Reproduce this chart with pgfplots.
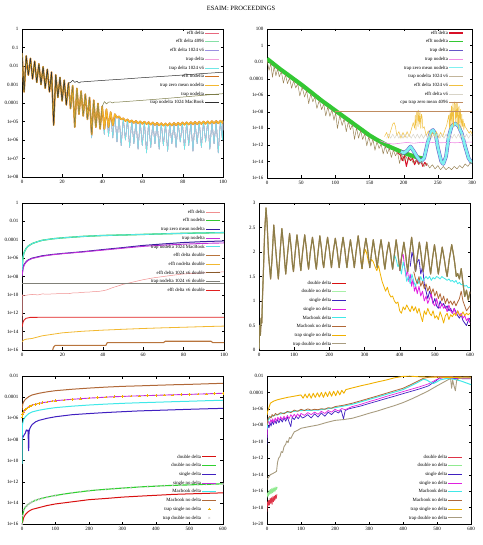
\documentclass[border=0pt]{standalone}
\usepackage{fontspec}
\setmainfont{Liberation Serif}
\usepackage{pgfplots}
\usepackage{pgfplotstable}
\pgfplotsset{compat=1.18}

\definecolor{tlEffd}{HTML}{E8687E}
\definecolor{tlE4096}{HTML}{86E0A6}
\definecolor{tlE1024}{HTML}{9C90E0}
\definecolor{tlTrapd}{HTML}{F2A0DA}
\definecolor{tlTrap1024}{HTML}{70E6E6}
\definecolor{tlEffnd}{HTML}{D07020}
\definecolor{tlZero}{HTML}{F4B830}
\definecolor{tlTrapnd}{HTML}{7C7C48}
\definecolor{tlMac}{HTML}{2E2E2E}
\definecolor{cRed}{HTML}{D81028}
\definecolor{cGreen}{HTML}{33C833}
\definecolor{cPurple}{HTML}{6656C8}
\definecolor{cPink}{HTML}{F08CE4}
\definecolor{cCyan}{HTML}{80F0F0}
\definecolor{cTan}{HTML}{9A8458}
\definecolor{cYellow}{HTML}{F0C040}
\definecolor{cLight}{HTML}{D8D4C8}
\definecolor{cCpu}{HTML}{C08C60}
\definecolor{mlPink}{HTML}{F09090}
\definecolor{mlBlue}{HTML}{3A1EA0}
\definecolor{mlMag}{HTML}{C030D8}
\definecolor{mlCyan}{HTML}{55E5E5}
\definecolor{mlTan}{HTML}{B8743C}
\definecolor{mlOrange}{HTML}{F2B830}
\definecolor{mlBrown}{HTML}{8A5A2A}
\definecolor{mlGray}{HTML}{808078}
\definecolor{mlRed}{HTML}{E02020}
\definecolor{dRed}{HTML}{D81010}
\definecolor{dLGreen}{HTML}{A8F0A8}
\definecolor{dGreen}{HTML}{30D030}
\definecolor{dBlue}{HTML}{4020C0}
\definecolor{dMag}{HTML}{E020E0}
\definecolor{dCyan}{HTML}{40E8E8}
\definecolor{dBrown}{HTML}{B06838}
\definecolor{dOrange}{HTML}{F0B000}
\definecolor{dOlive}{HTML}{8C7C48}
\definecolor{dGray}{HTML}{A89C80}

\pgfplotsset{
  gp/.style={
    scale only axis, anchor=south west,
    font=\fontsize{5}{6}\selectfont,
    /pgf/number format/assume math mode=true,
    axis line style={line width=0.4pt},
    tick align=inside,
    major tick length=2.5pt,
    every tick/.style={line width=0.3pt, black},
    yminorticks=false, xminorticks=false,
    legend style={draw=none, fill=none, font=\fontsize{4.8}{5.5}\selectfont,
      inner sep=0pt, row sep=3.2pt,
      nodes={inner sep=0.6pt, text height=3.4pt, text depth=0.9pt}},
    legend cell align=right,
    legend plot pos=right,
    legend image code/.code={\draw[mark repeat=2,mark phase=2] plot coordinates {(0pt,0pt) (7pt,0pt) (14pt,0pt)};},
    every axis plot/.append style={line join=round},
  }
}

\pgfplotstableread{
x cy or
0 5.0e-2 5.0e-2
1.05 4.0e-4 4.0e-4
2.1 3.5e-2 3.5e-2
3.15 3.2e-3 3.2e-3
4.2 2.6e-2 2.6e-2
5.25 2.0e-3 2.0e-3
6.3 1.8e-2 1.8e-2
7.35 1.3e-3 1.3e-3
8.4 1.3e-2 1.3e-2
9.45 1.0e-3 1.0e-3
10.5 9.1e-3 9.1e-3
11.55 6.3e-4 6.3e-4
12.6 6.6e-3 6.6e-3
13.65 4.0e-4 4.0e-4
14.7 4.7e-3 4.7e-3
15.75 6.3e-6 6.3e-6
16.8 3.3e-3 3.3e-3
17.85 2.0e-4 2.0e-4
18.9 2.4e-3 2.4e-3
19.95 1.3e-4 1.3e-4
21.0 1.7e-3 1.7e-3
22.05 7.9e-5 7.9e-5
23.1 1.2e-3 1.2e-3
24.15 5.0e-5 5.0e-5
25.2 8.7e-4 8.7e-4
26.25 5.0e-6 5.0e-6
27.3 6.2e-4 6.2e-4
28.35 2.5e-5 2.5e-5
29.4 4.4e-4 4.4e-4
30.45 2.0e-5 2.0e-5
31.5 3.0e-4 3.0e-4
32.55 1.3e-5 1.3e-5
33.6 2.0e-4 2.0e-4
34.65 1.3e-6 2.0e-6
35.7 1.4e-4 1.4e-4
36.75 5.0e-6 5.0e-6
37.8 9.5e-5 9.5e-5
38.85 4.0e-6 4.0e-6
39.9 6.5e-5 6.5e-5
40.95 2.0e-6 4.0e-6
42.0 4.6e-5 4.6e-5
43.05 1.6e-6 5.0e-6
44.1 3.2e-5 3.2e-5
45.15 1.3e-6 6.3e-6
46.2 2.5e-5 2.5e-5
47.25 7.9e-7 1.6e-5
48.3 1.9e-5 1.9e-5
49.35 5.0e-7 1.3e-5
50.4 1.5e-5 1.5e-5
51.45 1.0e-6 1.05e-5
52.5 1.3e-5 1.3e-5
53.55 4.0e-7 9.2e-6
54.6 1.15e-5 1.15e-5
55.65 6.3e-7 8.4e-6
56.7 1.07e-5 1.07e-5
57.75 3.2e-7 7.9e-6
58.8 1.02e-5 1.02e-5
59.85 5.0e-7 7.5e-6
60.9 9.8e-6 9.8e-6
61.95 2.0e-7 7.2e-6
63.0 9.3e-6 9.3e-6
64.05 4.0e-7 6.8e-6
65.1 8.9e-6 8.9e-6
66.15 6.3e-7 6.5e-6
67.2 8.5e-6 8.5e-6
68.25 3.2e-7 6.2e-6
69.3 8.1e-6 8.1e-6
70.35 5.0e-7 6.0e-6
71.4 7.9e-6 7.9e-6
72.45 2.5e-7 6.0e-6
73.5 8.1e-6 8.1e-6
74.55 6.3e-7 6.1e-6
75.6 8.3e-6 8.3e-6
76.65 4.0e-7 6.3e-6
77.7 8.5e-6 8.5e-6
78.75 7.9e-7 6.5e-6
79.8 8.9e-6 8.9e-6
80.85 3.2e-7 6.7e-6
81.9 9.1e-6 9.1e-6
82.95 5.0e-7 6.9e-6
84.0 9.3e-6 9.3e-6
85.05 2.5e-7 7.0e-6
86.1 9.5e-6 9.5e-6
87.15 6.3e-7 7.2e-6
88.2 9.8e-6 9.8e-6
89.25 4.0e-7 7.3e-6
90.3 1.0e-5 1.0e-5
91.35 7.9e-7 7.5e-6
92.4 1.02e-5 1.02e-5
93.45 3.2e-7 7.7e-6
94.5 1.05e-5 1.05e-5
95.55 6.3e-7 7.9e-6
96.6 1.07e-5 1.07e-5
97.65 2.0e-7 8.0e-6
98.7 1.1e-5 1.1e-5
99.75 1.0e-6 8.3e-6
100 1.12e-5 1.12e-5
}\tltab

\pgfplotstableread{
x y
196 1.6e-13
200 1.0e-13
205 2.0e-13
210 6.3e-13
215 1.6e-13
220 3.2e-14
225 1.0e-14
230 2.5e-14
235 1.6e-12
240 4.0e-11
243 6.3e-11
247 1.6e-11
250 5.0e-13
255 1.0e-14
258 5.0e-15
262 4.0e-14
266 1.0e-11
270 1.6e-10
275 4.0e-10
280 2.0e-10
285 2.5e-11
290 6.3e-13
295 2.5e-14
300 6.3e-15
}\trhump

\pgfplotstableread{
x y
0 0.02
2 0.5
4 0.3
6 0.65
8 0.55
10 1.1
13 1.7
16 2.4
20 2.9
23 2.6
27 1.95
30 1.7
33 1.45
37 1.85
42 2.55
47 2.1
51 1.75
55 1.45
60 2.0
65 2.48
70 2.1
73 1.8
76 1.55
81 1.95
87 2.38
92 2.05
95 1.75
98 1.6
103 2.0
108 2.35
113 2.05
116 1.8
119 1.62
124 2.0
130 2.35
135 2.05
138 1.8
141 1.65
146 2.0
152 2.3
157 2.05
160 1.8
163 1.65
168 2.0
173 2.33
178 2.05
181 1.8
184 1.68
189 2.0
195 2.3
200 2.05
203 1.85
206 1.68
211 2.0
217 2.28
222 2.05
225 1.85
228 1.68
233 2.0
239 2.3
244 2.05
247 1.85
250 1.68
255 2.0
260 2.25
265 2.0
268 1.85
271 1.68
276 2.0
282 2.33
287 2.05
290 1.82
293 1.66
298 2.0
304 2.28
309 2.05
312 1.85
315 1.68
320 1.98
325 2.25
330 2.0
333 1.85
336 1.68
341 1.98
347 2.25
352 2.0
355 1.8
358 1.65
363 1.95
369 2.2
374 1.98
377 1.8
380 1.65
385 1.95
390 2.25
395 1.98
398 1.78
401 1.62
406 1.92
412 2.2
417 1.95
420 1.75
423 1.6
428 1.95
434 2.3
439 2.0
442 1.78
445 1.6
450 1.9
456 2.2
461 1.95
464 1.75
467 1.6
472 1.9
477 2.2
482 1.9
485 1.7
488 1.55
493 1.85
499 2.15
504 1.9
507 1.7
510 1.55
515 1.8
521 2.1
527 1.85
531 1.65
535 1.5
541 1.85
548 2.15
553 1.95
557 1.75
561 1.5
565 1.56
570 1.45
575 1.66
580 1.36
585 1.09
590 1.22
595 1.02
600 1.19
}\mrtab

\pgfplotstableread{
x c2 gr
0 1.4e-6 1.0e-16
2 2.2e-6 6.3e-16
5 4.2e-6 2.0e-15
10 6.9e-6 4.0e-15
15 9.3e-6 5.6e-15
20 1.23e-5 7.9e-15
25 1.48e-5 1.0e-14
30 1.8e-5 1.26e-14
40 2.1e-5 1.7e-14
50 2.6e-5 2.2e-14
60 2.95e-5 2.7e-14
75 3.5e-5 3.5e-14
90 4.2e-5 4.4e-14
100 4.6e-5 5.0e-14
125 5.4e-5 6.8e-14
150 6.3e-5 8.9e-14
175 7.1e-5 1.12e-13
200 8.1e-5 1.4e-13
225 8.9e-5 1.66e-13
250 1.0e-4 1.9e-13
275 1.1e-4 2.2e-13
300 1.17e-4 2.5e-13
325 1.26e-4 2.8e-13
350 1.32e-4 3.2e-13
375 1.41e-4 3.5e-13
400 1.48e-4 3.8e-13
425 1.58e-4 4.2e-13
450 1.66e-4 4.5e-13
475 1.74e-4 4.8e-13
500 1.82e-4 5.0e-13
525 1.95e-4 5.4e-13
550 2.04e-4 5.6e-13
575 2.2e-4 6.0e-13
600 2.3e-4 6.3e-13
}\bltab

\begin{document}
\begin{tikzpicture}
\useasboundingbox (0,0) rectangle (482pt,545pt);
\node[font=\fontsize{6.5}{7.5}\selectfont] at (241pt,537pt) {ESAIM: PROCEEDINGS};

% ---------------- top left
\begin{axis}[gp, at={(22pt,368pt)}, width=201pt, height=148pt,
  xmin=0, xmax=100, ymode=log, ymin=1e-8, ymax=1,
  xtick={0,20,40,60,80,100},
  ytick={1e-8,1e-7,1e-6,1e-5,1e-4,1e-3,1e-2,1e-1,1},
  yticklabels={1e-08,1e-07,1e-06,1e-05,0.0001,0.001,0.01,0.1,1},
  legend style={at={(0.985,0.993)},anchor=north east}]
\addplot[tlEffd, line width=0.5pt] table[x=x,y=cy]{\tltab};
\addlegendentry{efft delta}
\addplot[tlE4096, line width=0.5pt] table[x=x,y=cy]{\tltab};
\addlegendentry{efft delta 4096}
\addplot[tlE1024, line width=0.5pt] table[x=x,y=cy]{\tltab};
\addlegendentry{efft delta 1024 v6}
\addplot[tlTrapd, line width=0.5pt] table[x=x,y=cy]{\tltab};
\addlegendentry{trap delta}
\addplot[tlTrap1024, line width=0.5pt] table[x=x,y=cy]{\tltab};
\addlegendentry{trap delta 1024 v6}
\addplot[tlEffnd, line width=1.6pt, legend image post style={line width=1.2pt}] table[x=x,y=or]{\tltab};
\addlegendentry{efft nodelta}
\addplot[tlZero, line width=1.2pt] table[x=x,y=or]{\tltab};
\addlegendentry{trap zero mean nodelta}
\addplot[tlTrapnd, line width=0.5pt, forget plot, restrict x to domain=0:39.95] table[x=x,y=or]{\tltab};
\addplot[tlTrapnd, line width=0.5pt] coordinates {(39.9,6.5e-5) (41.0,1.2e-4) (42.0,8.9e-5) (43.0,1.1e-4) (44.0,1.15e-4) (45.0,1.0e-4) (46.0,1.12e-4) (47.0,1.1e-4) (60,1.4e-4) (70,1.7e-4) (80,2.1e-4) (90,2.6e-4) (100,3.2e-4)};
\addlegendentry{trap nodelta}
\addplot[tlMac, line width=0.5pt, forget plot, restrict x to domain=0:23.15] table[x=x,y=or]{\tltab};
\addplot[tlMac, line width=0.5pt] coordinates {(23.1,1.2e-3) (24.15,1.3e-3) (25.2,1.7e-3) (26.25,1.3e-3) (27.3,1.5e-3) (28.35,1.2e-3) (29.4,1.4e-3) (30.45,1.4e-3) (40,1.66e-3) (50,1.95e-3) (60,2.34e-3) (70,2.75e-3) (80,3.24e-3) (90,3.9e-3) (100,4.6e-3)};
\addlegendentry{trap nodelta 1024 MacBook}
\end{axis}

% ---------------- top right
\begin{axis}[gp, at={(267pt,367pt)}, width=205pt, height=149pt,
  xmin=0, xmax=300, ymode=log, ymin=1e-16, ymax=100,
  xtick={0,50,100,150,200,250,300},
  ytick={1e-16,1e-14,1e-12,1e-10,1e-8,1e-6,1e-4,1e-2,1,100},
  yticklabels={1e-16,1e-14,1e-12,1e-10,1e-08,1e-06,0.0001,0.01,1,100},
  legend style={at={(0.961,0.993)},anchor=north east}]
\addplot[cRed, line width=1.0pt, legend image post style={line width=1.3pt}] coordinates {(190,1.26e-13) (195,6.3e-14) (198,1.26e-14) (201,5.0e-14) (204,2.5e-15) (207,3.2e-14) (210,1.26e-14) (213,2.5e-14) (216,4.0e-15) (219,1.6e-14) (222,5.0e-15) (225,1.26e-14) (228,2.5e-15) (231,7.9e-15) (234,3.2e-15)};
\addlegendentry{efft delta}
\addplot[cGreen, line width=4.2pt, legend image post style={line width=1.3pt}] coordinates {(0,2.5e-2) (10,5.6e-3) (20,1.26e-3) (30,3.2e-4) (40,7.9e-5) (50,2.0e-5) (60,4.5e-6) (70,1.0e-6) (80,2.2e-7) (90,5.6e-8) (100,1.4e-8) (110,3.5e-9) (120,8.9e-10) (130,2.2e-10) (140,5.6e-11) (150,1.4e-11) (160,4.5e-12) (170,1.6e-12) (180,5.6e-13) (190,2.5e-13) (200,1.1e-13) (210,5.6e-14) (220,3.2e-14) (230,2.0e-14)};
\addlegendentry{efft nodelta}
\addplot[cPurple, line width=3.6pt, legend image post style={line width=1.3pt}] table[x=x,y=y]{\trhump};
\addlegendentry{trap delta}
\addplot[cPink, line width=0.6pt] coordinates {(165,3.2e-12) (175,1.6e-12) (185,1.26e-12) (195,1.6e-12) (205,2.0e-12) (215,1.6e-12) (225,2.0e-12) (235,1.8e-12) (245,2.0e-12) (255,1.8e-12) (265,2.0e-12) (275,1.8e-12) (285,2.0e-12) (300,2.2e-12)};
\addlegendentry{trap nodelta}
\addplot[cCyan, line width=2.6pt, legend image post style={line width=0.6pt}] table[x=x,y=y]{\trhump};
\addlegendentry{trap zero mean nodelta}
\addplot[cTan, line width=0.5pt, legend image post style={color=cTan!60}] coordinates {(0,1.6e-2) (3,1.0e-3) (5.5,6.9e-3) (8,1.5e-4) (10.5,3.3e-3) (13,2.2e-4) (15.5,1.55e-3) (18,1.7e-4) (21,6.9e-4) (24,2.9e-5) (27,3.0e-4) (30,2.5e-5) (33,1.3e-4) (36,6.9e-6) (39,5.8e-5) (42,7.6e-6) (45,2.5e-5) (48,8.3e-7) (51.5,1.0e-5) (55,6.0e-7) (58,3.8e-6) (61,9.5e-8) (64,1.55e-6) (67,1.6e-7) (70,6.3e-7) (73,2.5e-8) (76.5,2.4e-7) (80,1.8e-8) (83,9.3e-8) (86,3.1e-9) (89,4.1e-8) (92,2.7e-9) (95,1.8e-8) (98,9.3e-10) (100.5,8.3e-9) (103,9.3e-11) (106.5,3.6e-9) (110,2.2e-10) (113,1.5e-9) (116,3.9e-11) (119,6.5e-10) (122,6.8e-11) (125,2.8e-10) (128,4.7e-12) (131,1.2e-10) (134,6.5e-12) (137,5.4e-11) (140,4.5e-12) (143,2.3e-11) (146,7.8e-13) (149,1.0e-11) (152,7.1e-13) (155,5.0e-12) (158,2.2e-13) (161,2.5e-12) (164,3.7e-13) (167,1.35e-12) (170,7.9e-14) (173,7.4e-13) (176,8.5e-14) (179,4.0e-13) (182,3.0e-14) (185,2.4e-13) (188,4.7e-14) (191,1.45e-13) (194,5.8e-15) (197,8.9e-14) (200,1.1e-14) (203,5.0e-14) (206,1.26e-14) (210,3.2e-14) (214,6.3e-15) (218,1.6e-14) (222,4.0e-15) (226,1.0e-14) (230,2.5e-15) (234,6.3e-15) (238,1.6e-15) (242,4.0e-15) (246,1.26e-15) (250,3.2e-15) (254,1.0e-15) (258,2.5e-15) (262,1.0e-15) (266,2.0e-15) (270,1.0e-15) (274,2.5e-15) (278,1.26e-15) (282,3.2e-15) (286,1.6e-15) (290,5.0e-15) (294,2.5e-15) (298,7.9e-15) (300,5.0e-15)};
\addlegendentry{trap nodelta 1024 v6}
\addplot[cYellow, line width=0.5pt] coordinates {(172,1.0e-11) (175,3.2e-11) (178,6.3e-12) (181,5.0e-11) (184,3.2e-10) (186,5.0e-10) (188,1.6e-10) (190,1.26e-11) (193,4.0e-11) (196,6.3e-12) (199,3.2e-11) (202,7.9e-12) (205,4.0e-11) (208,1.0e-11) (211,6.3e-11) (214,5.0e-10) (216,1.0e-10) (217,4.0e-9) (218,6.3e-11) (219,7.9e-9) (220,1.26e-8) (221,1.6e-10) (222,1.6e-8) (223,3.2e-10) (224,1.0e-8) (225,1.0e-10) (226,5.0e-9) (227,2.5e-9) (228,1.0e-10) (230,1.6e-10) (233,1.26e-11) (236,5.0e-11) (239,7.9e-12) (242,3.2e-11) (245,1.0e-11) (248,4.0e-11) (251,7.9e-12) (254,3.2e-11) (257,1.0e-11) (260,5.0e-11) (263,2.5e-10) (266,4.0e-9) (267,1.0e-10) (268,1.6e-8) (269,1.6e-10) (270,5.0e-8) (271,3.2e-10) (272,1.0e-7) (273,1.6e-10) (274,1.26e-7) (275,1.6e-7) (276,6.3e-10) (277,1.4e-7) (278,2.5e-10) (279,1.0e-7) (280,7.9e-11) (281,5.0e-8) (282,4.0e-10) (283,2.0e-8) (284,1.0e-10) (285,5.0e-9) (286,1.6e-10) (287,1.26e-9) (288,6.3e-11) (289,4.0e-10) (290,1.6e-10) (293,6.3e-11) (296,2.5e-11) (298,5.0e-11) (300,2.0e-11)};
\addlegendentry{efft delta 1024 v6}
\addplot[cLight, line width=0.5pt] coordinates {(175,6.3e-12) (178,2.0e-11) (181,6.3e-12) (184,2.0e-11) (187,6.3e-12) (190,2.0e-11) (193,6.3e-12) (196,2.0e-11) (199,6.3e-12) (202,2.0e-11) (205,6.3e-12) (208,2.0e-11) (211,6.3e-12) (214,2.0e-11) (217,6.3e-12) (220,2.0e-11) (223,6.3e-12) (226,2.0e-11) (229,6.3e-12) (232,2.0e-11) (235,6.3e-12) (238,2.0e-11) (241,6.3e-12) (244,2.0e-11) (247,6.3e-12) (250,2.0e-11) (253,6.3e-12) (256,2.0e-11) (259,6.3e-12) (262,2.0e-11) (265,6.3e-12) (268,2.0e-11) (271,6.3e-12) (274,2.0e-11) (277,6.3e-12) (280,2.0e-11) (283,6.3e-12) (286,2.0e-11) (289,6.3e-12) (292,2.0e-11) (295,6.3e-12) (298,2.0e-11) (300,1.0e-11)};
\addlegendentry{efft delta v6}
\addplot[cCpu, line width=0.5pt] coordinates {(100,1.2e-8) (300,1.2e-8)};
\addlegendentry{cpu trap zero mean 4096}
\end{axis}

% ---------------- middle left
\begin{axis}[gp, at={(22pt,195pt)}, width=202pt, height=147pt,
  xmin=0, xmax=100, ymode=log, ymin=1e-16, ymax=1,
  xtick={0,20,40,60,80,100},
  ytick={1e-16,1e-14,1e-12,1e-10,1e-8,1e-6,1e-4,1e-2,1},
  yticklabels={1e-16,1e-14,1e-12,1e-10,1e-08,1e-06,0.0001,0.01,1},
  legend style={at={(0.985,0.959)},anchor=north east}]
\addplot[mlPink, line width=0.5pt] coordinates {(0,1.0e-16) (0.2,1.0e-10) (1,7.9e-11) (3,1.0e-10) (5,1.1e-10) (8,1.0e-10) (10,1.26e-10) (13,1.2e-10) (16,1.3e-10) (20,1.4e-10) (23,1.35e-10) (25,1.6e-10) (28,1.7e-10) (30,1.9e-10) (33,2.0e-10) (35,2.2e-10) (38,2.4e-10) (40,2.8e-10) (42,3.5e-10) (45,6.3e-10) (48,1.0e-9) (50,1.4e-9) (55,2.5e-9) (60,4.5e-9) (65,7.1e-9) (70,1.0e-8) (75,1.4e-8) (80,1.9e-8) (85,2.2e-8) (90,2.5e-8) (95,2.8e-8) (100,3.2e-8)};
\addlegendentry{efft delta}
\addplot[cGreen, line width=1.3pt] coordinates {(0,5.0e-8) (0.5,1.26e-6) (1,4.0e-6) (2,1.1e-5) (3,2.0e-5) (5,3.8e-5) (7.5,6.0e-5) (10,8.7e-5) (15,1.26e-4) (20,1.6e-4) (30,2.3e-4) (40,2.9e-4) (50,3.3e-4) (60,3.8e-4) (70,4.4e-4) (80,5.0e-4) (90,5.5e-4) (100,6.0e-4)};
\addlegendentry{efft nodelta}
\addplot[mlBlue, line width=1.0pt] coordinates {(0,1.26e-8) (0.5,7.9e-8) (1,2.0e-7) (2,4.0e-7) (3,6.3e-7) (5,1.0e-6) (10,1.8e-6) (15,2.5e-6) (20,3.2e-6) (30,5.0e-6) (40,8.5e-6) (50,1.4e-5) (60,2.4e-5) (70,3.5e-5) (80,5.0e-5) (90,6.3e-5) (100,7.4e-5)};
\addlegendentry{trap zero mean nodelta}
\addplot[mlMag, line width=0.9pt] coordinates {(0,1.0e-8) (0.5,6.3e-8) (1,1.6e-7) (2,3.5e-7) (3,5.6e-7) (5,9.0e-7) (10,1.6e-6) (15,2.3e-6) (20,3.0e-6) (30,4.6e-6) (40,7.4e-6) (50,1.2e-5) (60,1.9e-5) (70,2.6e-5) (80,3.3e-5) (90,4.0e-5) (100,4.5e-5)};
\addlegendentry{trap nodelta}
\addplot[mlCyan, line width=1.0pt] coordinates {(0,5.0e-8) (0.5,1.26e-6) (1,4.0e-6) (2,1.1e-5) (3,2.0e-5) (5,3.8e-5) (7.5,6.0e-5) (10,8.7e-5) (15,1.26e-4) (20,1.6e-4) (30,2.3e-4) (40,2.9e-4) (50,3.3e-4) (60,3.8e-4) (70,4.4e-4) (80,5.0e-4) (90,5.5e-4) (100,6.0e-4)};
\addlegendentry{trap nodelta 1024 MacBook}
\addplot[mlTan, line width=1.1pt] coordinates {(15.2,1.0e-16) (15.6,2.0e-16) (16.5,3.2e-16) (41.5,3.2e-16) (42.2,6.3e-16) (70,6.3e-16) (71,9.0e-16) (93.5,9.0e-16) (94.5,6.3e-16) (100,6.3e-16)};
\addlegendentry{efft delta double}
\addplot[mlOrange, line width=0.8pt] coordinates {(0,7.9e-16) (1,1.26e-15) (2,1.5e-15) (5,1.8e-15) (10,3.5e-15) (20,7.4e-15) (30,1.1e-14) (40,1.45e-14) (50,1.8e-14) (60,2.2e-14) (70,2.6e-14) (80,3.0e-14) (90,3.5e-14) (100,4.0e-14)};
\addlegendentry{efft nodelta double}
\addplot[mlBrown, line width=0.8pt] coordinates {(0,1.7e-9) (100,1.7e-9)};
\addlegendentry{efft delta 1024 v6 double}
\addplot[mlGray, line width=1.2pt] coordinates {(0,1.7e-9) (100,1.7e-9)};
\addlegendentry{trap nodelta 1024 v6 double}
\addplot[mlRed, line width=0.9pt] coordinates {(0,3.2e-14) (0.5,1.0e-13) (1,1.8e-13) (2,2.8e-13) (4,3.5e-13) (10,3.7e-13) (100,3.7e-13)};
\addlegendentry{efft delta v6 double}
\end{axis}

% ---------------- middle right
\begin{axis}[gp, at={(259pt,195pt)}, width=211pt, height=147pt,
  xmin=0, xmax=600, ymin=0, ymax=3,
  xtick={0,100,200,300,400,500,600},
  ytick={0,0.5,1,1.5,2,2.5,3},
  legend style={at={(0.417,0.476)},anchor=north east}]
\addplot[dRed, line width=0.9pt] table[x=x,y=y]{\mrtab};
\addlegendentry{double delta}
\addplot[dLGreen, line width=0.9pt] table[x=x,y=y]{\mrtab};
\addlegendentry{double no delta}
\addplot[dBlue, line width=0.8pt] coordinates {(430,1.7) (435,2.0) (440,1.85) (445,1.6) (450,1.8) (455,1.85) (460,1.55) (465,1.7) (470,1.35) (475,1.2) (480,1.05) (485,1.2) (490,1.1) (495,0.95) (500,1.05) (505,0.9) (510,0.85) (515,1.0) (520,0.9) (525,0.95) (530,0.85) (535,0.9) (540,0.8) (545,0.85) (550,0.75) (555,0.85) (560,0.78) (565,0.7) (570,0.65) (575,0.72) (580,0.6) (585,0.55) (590,0.5) (595,0.6) (600,0.65)};
\addlegendentry{single delta}
\addplot[dMag, line width=0.8pt] coordinates {(400,1.62) (405,1.9) (410,1.95) (414,1.7) (418,1.5) (422,1.65) (426,1.4) (430,1.55) (434,1.3) (438,1.45) (442,1.2) (446,1.3) (450,1.15) (455,1.3) (460,1.1) (465,1.2) (470,1.0) (475,1.1) (480,0.95) (485,1.05) (490,1.15) (495,0.95) (500,0.9) (505,1.05) (510,0.9) (515,0.85) (520,0.95) (525,0.85) (530,0.9) (535,0.78) (540,0.92) (545,0.8) (550,0.75) (555,0.85) (560,0.72) (565,0.8) (570,0.7) (575,0.75) (580,0.65) (585,0.7) (590,0.6) (595,0.65) (600,0.55)};
\addlegendentry{single no delta}
\addplot[dCyan, line width=0.8pt] coordinates {(380,1.65) (385,1.95) (390,1.85) (395,1.7) (400,1.75) (405,1.55) (410,1.8) (415,1.65) (420,1.4) (425,1.5) (430,1.35) (435,1.55) (440,1.4) (445,1.3) (450,1.45) (455,1.35) (460,1.5) (465,1.4) (470,1.45) (475,1.5) (480,1.45) (485,1.5) (490,1.42) (495,1.48) (500,1.45) (505,1.5) (510,1.48) (515,1.45) (520,1.5) (525,1.47) (530,1.45) (535,1.42) (540,1.45) (545,1.4) (550,1.42) (555,1.38) (560,1.42) (565,1.35) (570,1.38) (575,1.33) (580,1.35) (585,1.3) (590,1.32) (595,1.27) (600,1.28)};
\addlegendentry{Macbook delta}
\addplot[dBrown, line width=0.8pt] coordinates {(440,1.6) (445,1.45) (450,1.35) (455,1.5) (460,1.3) (465,1.4) (470,1.25) (475,1.35) (480,1.2) (485,1.3) (490,1.15) (495,1.25) (500,1.1) (505,1.2) (510,1.05) (515,1.15) (520,1.0) (525,1.1) (530,0.95) (535,1.05) (540,0.95) (545,1.0) (550,0.92) (555,1.0) (560,0.9) (565,0.98) (570,1.05) (575,1.2) (580,1.0) (585,0.9) (590,0.8) (595,0.85) (600,0.9)};
\addlegendentry{Macbook no delta}
\addplot[dOrange, line width=0.8pt] coordinates {(290,1.82) (293,1.66) (298,1.95) (303,2.05) (307,1.95) (311,1.8) (315,1.75) (320,1.85) (325,1.8) (330,1.7) (335,1.62) (340,1.72) (345,1.55) (350,1.4) (355,1.3) (360,1.2) (365,1.28) (370,1.15) (375,1.08) (380,1.1) (385,1.0) (390,0.95) (395,0.98) (400,0.8) (405,0.75) (410,0.88) (415,0.82) (420,0.92) (425,0.85) (430,0.78) (435,0.9) (440,0.8) (445,0.88) (450,0.75) (455,0.85) (460,0.7) (465,0.58) (470,0.8) (475,0.72) (480,0.85) (485,0.75) (490,0.7) (495,0.8) (500,0.65) (505,0.7) (510,0.62) (515,0.78) (520,0.68) (525,0.55) (530,0.7) (535,0.75) (540,0.62) (545,0.72) (550,0.68) (555,0.75) (560,0.7) (565,0.8) (570,0.72) (575,0.7) (580,0.78) (585,0.7) (590,0.75) (595,0.72) (600,0.75)};
\addlegendentry{trap single no delta}
\addplot[dOlive, line width=1.1pt, legend image post style={color=dGray, line width=0.8pt}] table[x=x,y=y]{\mrtab};
\addlegendentry{trap double no delta}
\end{axis}

% ---------------- bottom left
\begin{axis}[gp, at={(22pt,21pt)}, width=201pt, height=148pt,
  xmin=0, xmax=600, ymode=log, ymin=1e-16, ymax=1e-2,
  xtick={0,100,200,300,400,500,600},
  ytick={1e-16,1e-14,1e-12,1e-10,1e-8,1e-6,1e-4,1e-2},
  yticklabels={1e-16,1e-14,1e-12,1e-10,1e-08,1e-06,0.0001,0.01},
  legend style={at={(0.970,0.473)},anchor=north east}]
\addplot[dRed, line width=1.0pt] coordinates {(0,1.0e-16) (2,1.6e-16) (5,4.0e-16) (10,7.9e-16) (20,1.6e-15) (30,2.4e-15) (50,3.5e-15) (75,5.6e-15) (100,7.9e-15) (150,1.26e-14) (200,2.0e-14) (250,2.6e-14) (300,3.5e-14) (350,4.3e-14) (400,5.2e-14) (450,6.3e-14) (500,7.1e-14) (550,7.9e-14) (600,8.9e-14)};
\addlegendentry{double delta}
\addplot[dGreen, line width=1.1pt] table[x=x,y=gr]{\bltab};
\addlegendentry{double no delta}
\addplot[dBlue, line width=1.0pt] coordinates {(0,1.26e-8) (3,1.6e-8) (6,2.5e-8) (10,4.0e-8) (13,7.9e-8) (16,6.3e-8) (18,7.9e-8) (19.5,1.0e-9) (20,8.5e-10) (21,5.0e-8) (23,1.0e-7) (26,1.6e-7) (30,2.5e-7) (40,4.5e-7) (50,6.3e-7) (75,1.0e-6) (100,1.4e-6) (150,2.2e-6) (200,2.8e-6) (250,3.5e-6) (300,4.2e-6) (350,5.0e-6) (400,5.6e-6) (450,6.3e-6) (500,7.1e-6) (550,7.9e-6) (600,8.7e-6)};
\addlegendentry{single delta}
\addplot[mlMag, line width=0.9pt] table[x=x,y=c2]{\bltab};
\addlegendentry{single no delta}
\addplot[dCyan, line width=1.0pt] coordinates {(0,5.0e-11) (1,2.0e-7) (2,3.2e-7) (5,7.9e-7) (10,1.4e-6) (20,2.75e-6) (30,4.0e-6) (50,5.75e-6) (75,7.9e-6) (100,1.02e-5) (150,1.4e-5) (200,1.8e-5) (250,2.2e-5) (300,2.6e-5) (350,2.95e-5) (400,3.3e-5) (450,3.7e-5) (500,4.1e-5) (550,4.6e-5) (600,5.1e-5)};
\addlegendentry{Macbook delta}
\addplot[dBrown, line width=1.0pt] coordinates {(0,6.3e-6) (2,2.0e-5) (5,3.7e-5) (10,6.2e-5) (20,1.1e-4) (30,1.6e-4) (50,2.3e-4) (75,3.2e-4) (100,4.1e-4) (150,5.6e-4) (200,7.2e-4) (250,8.9e-4) (300,1.05e-3) (350,1.17e-3) (400,1.32e-3) (450,1.48e-3) (500,1.62e-3) (550,1.82e-3) (600,2.04e-3)};
\addlegendentry{Macbook no delta}
\addplot[dOrange, only marks, mark=+, mark size=1.3pt, line width=0.4pt] table[x=x,y=c2]{\bltab};
\addlegendentry{trap single no delta}
\addplot[gray!45, only marks, mark=x, mark size=1.3pt, line width=0.4pt] table[x=x,y=gr]{\bltab};
\addlegendentry{trap double no delta}
\end{axis}

% ---------------- bottom right
\begin{axis}[gp, at={(267pt,21pt)}, width=204pt, height=148pt,
  xmin=0, xmax=600, ymode=log, ymin=1e-20, ymax=1e-2,
  xtick={0,100,200,300,400,500,600},
  ytick={1e-20,1e-18,1e-16,1e-14,1e-12,1e-10,1e-8,1e-6,1e-4,1e-2},
  yticklabels={1e-20,1e-18,1e-16,1e-14,1e-12,1e-10,1e-08,1e-06,0.0001,0.01},
  legend style={at={(0.961,0.473)},anchor=north east}]
\addplot[cRed!85, line width=0.8pt] coordinates {(0,3.2e-19) (1,5.0e-18) (3,1.6e-18) (5,7.9e-18) (7,2.0e-18) (9,1.26e-17) (11,3.2e-18) (13,1.6e-17) (15,2.5e-18) (17,2.0e-17) (19,5.0e-18) (21,2.5e-17) (23,7.9e-18) (25,3.2e-17) (27,1.26e-17) (29,4.0e-17)};
\addlegendentry{double delta}
\addplot[dLGreen!80!dGreen, line width=0.8pt] coordinates {(0,1.6e-17) (2,6.3e-17) (4,2.5e-17) (6,1.26e-16) (8,4.0e-17) (10,1.6e-16) (12,5.0e-17) (14,2.0e-16) (16,6.3e-17) (18,2.5e-16) (20,7.9e-17) (22,2.5e-16) (24,1.0e-16) (26,3.2e-16) (28,1.6e-16) (30,3.2e-16)};
\addlegendentry{double no delta}
\addplot[dBlue, line width=0.7pt] coordinates {(0,5.0e-11) (1,3.2e-9) (3,1.0e-8) (6,5.0e-9) (9,2.0e-8) (12,7.9e-9) (15,3.2e-8) (19,1.26e-8) (23,4.0e-8) (27,1.6e-8) (31,5.0e-8) (35,2.0e-8) (40,6.3e-8) (45,2.5e-8) (50,7.9e-8) (55,3.2e-8) (60,1.0e-7) (65,2.5e-8) (70,6.9e-9) (74,1.0e-7) (80,5.0e-8) (86,1.26e-7) (92,6.3e-8) (98,1.6e-7) (104,7.9e-8) (110,1.0e-7) (120,2.0e-7) (130,7.9e-8) (140,2.5e-7) (150,1.0e-7) (160,3.2e-7) (170,1.26e-7) (180,4.0e-7) (190,2.0e-7) (200,5.6e-7) (210,3.2e-7) (218,7.1e-7) (225,6.3e-8) (230,6.3e-7) (240,1.0e-6) (250,1.26e-6) (275,2.2e-6) (300,4.5e-6) (325,8.9e-6) (350,1.8e-5) (375,3.5e-5) (400,7.1e-5) (425,1.4e-4) (450,2.8e-4) (475,6.3e-4) (500,3.2e-3) (510,7.9e-3) (520,6.3e-3) (550,5.0e-3) (600,4.5e-3)};
\addlegendentry{single delta}
\addplot[dMag, line width=0.7pt] coordinates {(0,3.2e-10) (2,1.6e-8) (5,3.2e-8) (8,1.26e-8) (11,5.0e-8) (14,2.5e-8) (17,6.3e-8) (20,2.0e-8) (24,7.9e-8) (28,3.2e-8) (32,1.0e-7) (36,4.0e-8) (40,1.1e-7) (45,5.0e-8) (50,1.26e-7) (55,5.6e-8) (60,1.6e-7) (65,6.3e-8) (70,2.0e-7) (75,1.0e-7) (80,2.2e-7) (85,1.1e-7) (90,2.5e-7) (95,1.26e-7) (100,2.8e-7) (110,1.6e-7) (120,3.5e-7) (130,2.0e-7) (140,4.0e-7) (150,2.2e-7) (160,5.0e-7) (170,2.8e-7) (180,6.3e-7) (190,4.0e-7) (200,8.9e-7) (210,5.6e-7) (220,1.1e-6) (230,7.9e-7) (250,1.9e-6) (275,3.5e-6) (300,7.6e-6) (325,1.5e-5) (350,3.2e-5) (375,6.3e-5) (400,1.26e-4) (425,2.5e-4) (450,5.0e-4) (475,1.1e-3) (500,4.0e-3) (520,6.3e-3) (550,5.6e-3) (575,5.0e-3) (600,5.0e-3)};
\addlegendentry{single no delta}
\addplot[dCyan, line width=1.0pt] coordinates {(0,3.2e-9) (3,4.0e-8) (10,1.0e-7) (20,1.6e-7) (40,2.5e-7) (60,4.0e-7) (100,6.3e-7) (150,7.1e-7) (200,1.4e-6) (250,3.5e-6) (300,1.4e-5) (350,5.6e-5) (400,2.2e-4) (440,1.4e-3) (460,4.0e-3) (470,3.2e-3) (480,1.8e-3) (490,1.26e-3) (500,2.0e-3) (510,3.5e-3) (530,5.0e-3) (550,4.0e-3) (570,2.5e-3) (590,1.26e-3) (600,8.9e-4)};
\addlegendentry{Macbook delta}
\addplot[dBrown, line width=0.8pt] coordinates {(0,1.0e-8) (3,6.3e-8) (8,1.26e-7) (12,7.9e-8) (15,2.0e-7) (20,1.3e-7) (25,2.8e-7) (30,1.8e-7) (40,3.5e-7) (50,2.5e-7) (60,5.0e-7) (70,3.5e-7) (80,7.1e-7) (90,5.0e-7) (100,8.9e-7) (110,6.3e-7) (120,1.0e-6) (130,7.1e-7) (140,8.9e-7) (150,7.9e-7) (160,1.05e-6) (170,9.0e-7) (180,1.4e-6) (190,1.2e-6) (200,1.9e-6) (225,2.8e-6) (250,4.8e-6) (275,9.5e-6) (300,1.9e-5) (325,3.8e-5) (350,7.8e-5) (375,1.6e-4) (400,3.2e-4) (420,7.9e-4) (440,2.0e-3) (460,5.2e-3) (480,7.6e-3) (500,8.9e-3) (550,8.3e-3) (600,7.1e-3)};
\addlegendentry{Macbook no delta}
\addplot[dOrange, line width=0.9pt] coordinates {(0,1.8e-7) (2,5.0e-7) (5,1.2e-6) (10,5.0e-6) (20,8.9e-6) (30,1.26e-5) (45,1.8e-5) (60,2.5e-5) (80,3.5e-5) (100,5.0e-5) (106,2.0e-5) (112,6.3e-5) (118,2.2e-5) (124,7.1e-5) (130,2.0e-5) (136,7.9e-5) (142,2.5e-5) (148,8.9e-5) (154,2.8e-5) (160,1.0e-4) (166,2.5e-5) (172,1.1e-4) (178,3.2e-5) (184,1.26e-4) (190,3.5e-5) (196,1.4e-4) (202,4.0e-5) (208,1.6e-4) (214,5.0e-5) (220,1.8e-4) (226,7.9e-5) (232,2.2e-4) (250,3.5e-4) (275,6.3e-4) (300,1.07e-3) (325,1.9e-3) (350,3.2e-3) (375,6.0e-3) (400,8.9e-3) (420,9.5e-3) (450,7.9e-3) (500,7.1e-3) (550,6.6e-3) (600,7.6e-3)};
\addlegendentry{trap single no delta}
\addplot[dGray, line width=0.9pt] coordinates {(0,2.5e-15) (5,5.0e-15) (10,1.0e-14) (20,1.6e-14) (28,2.5e-14) (31,3.2e-13) (34,1.0e-12) (38,1.6e-12) (42,6.3e-12) (46,5.0e-12) (50,2.5e-11) (55,5.0e-11) (58,1.26e-10) (62,7.9e-11) (66,3.2e-10) (70,2.5e-10) (75,6.3e-10) (80,1.6e-9) (90,2.5e-9) (100,4.4e-9) (125,7.1e-9) (150,1.1e-8) (175,2.2e-8) (200,4.0e-8) (225,5.0e-8) (250,7.1e-8) (275,1.4e-7) (300,2.9e-7) (325,5.6e-7) (350,1.2e-6) (375,2.5e-6) (400,5.8e-6) (425,1.6e-5) (450,4.9e-5) (475,1.6e-4) (500,6.3e-4) (520,1.8e-3) (535,4.0e-3) (540,4.5e-3) (543,3.2e-4) (546,3.2e-3) (550,6.3e-4) (554,1.6e-4) (558,3.2e-3) (565,5.0e-3) (580,5.6e-3) (600,5.2e-3)};
\addlegendentry{trap double no delta}
\end{axis}
\end{tikzpicture}
\end{document}
